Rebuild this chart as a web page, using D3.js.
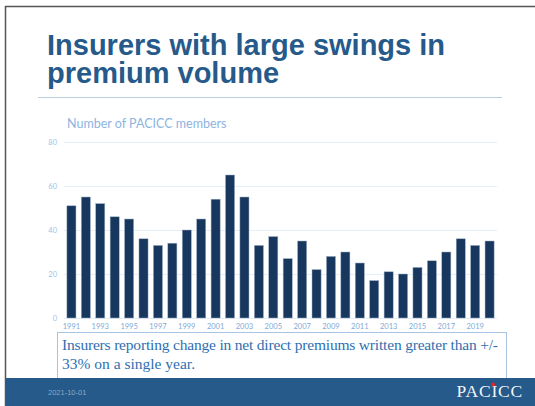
<!DOCTYPE html>
<html><head><meta charset="utf-8">
<script src="https://cdn.jsdelivr.net/npm/d3@7"></script>
<style>body{margin:0;background:#fff}svg{display:block}</style>
</head><body>
<script>
const years = d3.range(1991, 2021).map(String);
const members = [51,55,52,46,45,36,33,34,40,45,54,65,55,33,37,27,35,22,28,30,25,17,21,20,23,26,30,36,33,35];
const yTicks = [0,20,40,60,80];
const xTickLabels = years.filter((d,i)=>i%2===0);
const titleLines = ["Insurers with large swings in","premium volume"];
const subtitle = "Number of PACICC members";
const noteLines = ["Insurers reporting change in net direct premiums written greater than +/-","33% on a single year."];
const footerDate = "2021-10-01";

const W=535,H=406;
const svg = d3.select("body").append("svg").attr("width",W).attr("height",H);

// slide frame
svg.append("rect").attr("x",0).attr("y",0).attr("width",W).attr("height",H).attr("fill","#fff");
svg.append("line").attr("x1",5.5).attr("x2",5.5).attr("y1",6).attr("y2",H).attr("stroke","#555").attr("stroke-width",1.5);
svg.append("line").attr("x1",5).attr("x2",W).attr("y1",6.5).attr("y2",6.5).attr("stroke","#555").attr("stroke-width",1.5);

// title
const title = svg.append("text").attr("font-family","Liberation Sans, Arial, sans-serif").attr("font-weight","bold")
  .attr("font-size",29).attr("fill","#255a8a");
titleLines.forEach((t,i)=>title.append("tspan").attr("x",47).attr("y",54.5+i*28).text(t));
svg.append("line").attr("x1",38).attr("x2",502).attr("y1",97.5).attr("y2",97.5).attr("stroke","#b9cde3").attr("stroke-width",1.2);

// subtitle
svg.append("text").attr("x",67).attr("y",128).attr("font-family","Lato, Open Sans, sans-serif").attr("font-size",12.5)
  .attr("fill","#8db4e2").text(subtitle);

// scales
const x = d3.scaleBand().domain(years).range([64,497]).paddingInner(0.37).paddingOuter(0.2);
const y = d3.scaleLinear().domain([0,80]).range([318,142]);

// gridlines
svg.append("g").selectAll("line").data(yTicks).join("line")
  .attr("x1",64).attr("x2",497).attr("y1",d=>y(d)+0.5).attr("y2",d=>y(d)+0.5)
  .attr("stroke","#e6eef7").attr("stroke-width",1);

// y axis
const yAxis = svg.append("g").attr("transform","translate(57,0)")
  .call(d3.axisLeft(y).tickValues(yTicks).tickSize(0).tickPadding(0));
yAxis.select(".domain").remove();
yAxis.selectAll("text").attr("font-family","Lato, Open Sans, sans-serif").attr("font-size",7.5).attr("fill","#9dc3e6");

// bars
svg.append("g").selectAll("rect").data(members).join("rect")
  .attr("x",(d,i)=>x(years[i])).attr("width",x.bandwidth())
  .attr("y",d=>y(d)).attr("height",d=>y(0)-y(d))
  .attr("fill","#17375e").attr("stroke","#9fb0c4").attr("stroke-width",0.5);

// x axis
const xAxis = svg.append("g").attr("transform","translate(0,321)")
  .call(d3.axisBottom(x).tickValues(xTickLabels).tickSize(0).tickPadding(3));
xAxis.select(".domain").remove();
xAxis.selectAll("text").attr("font-family","Lato, Open Sans, sans-serif").attr("font-size",7.5).attr("fill","#7fa9d6");

// note box
svg.append("rect").attr("x",57.5).attr("y",332.5).attr("width",449).attr("height",47).attr("fill","#fff")
  .attr("stroke","#a9c4e2").attr("stroke-width",1);
const note = svg.append("text").attr("font-family","Liberation Serif, Times New Roman, serif").attr("font-size",15.5).attr("fill","#2e6fb0");
note.append("tspan").attr("x",62).attr("y",350).attr("textLength",436).attr("lengthAdjust","spacing").text(noteLines[0]);
note.append("tspan").attr("x",62).attr("y",369).text(noteLines[1]);

// footer
svg.append("rect").attr("x",6).attr("y",378).attr("width",W-6).attr("height",H-378).attr("fill","#255a8a");
svg.append("text").attr("x",48).attr("y",395).attr("font-family","Liberation Sans, Arial, sans-serif").attr("font-size",7.5)
  .attr("fill","#8ea7c3").text(footerDate);
svg.append("text").attr("x",523).attr("y",397).attr("text-anchor","end").attr("font-family","Liberation Serif, Times New Roman, serif")
  .attr("font-size",17.5).attr("letter-spacing",0.8).attr("fill","#f2f5f9").text("PACICC");
svg.append("circle").attr("cx",493).attr("cy",384.5).attr("r",2).attr("fill","#e0262b");
</script>
</body></html>
